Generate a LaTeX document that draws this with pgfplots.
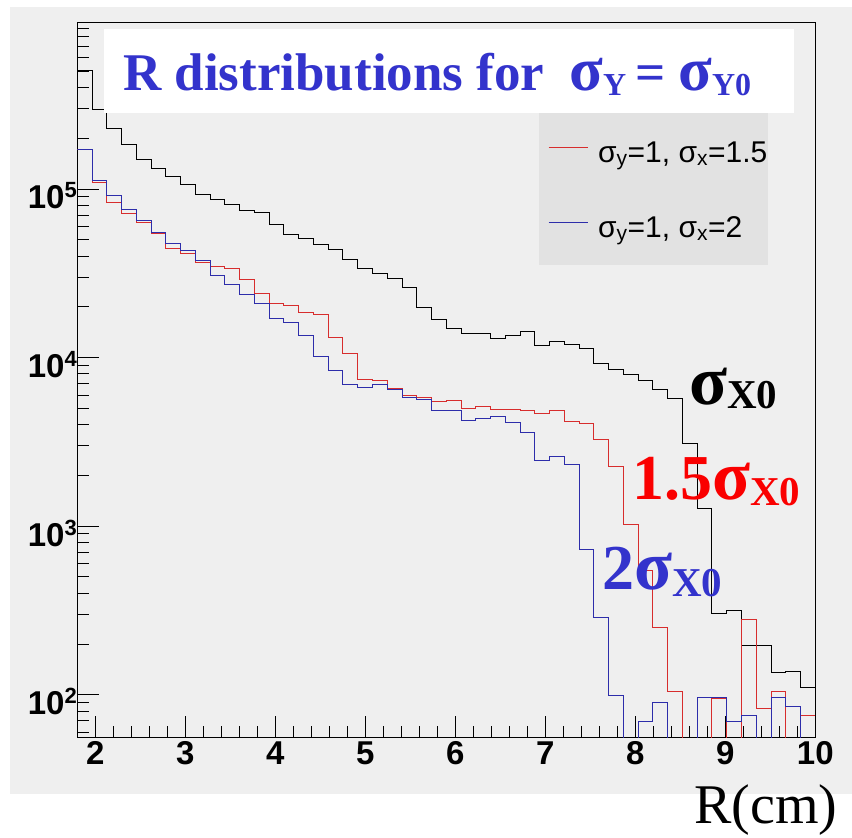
\documentclass[border=0pt]{standalone}
\usepackage{pgfplots}
\pgfplotsset{compat=1.18}
\usepackage{pgfplotstable}
\usepackage{fontspec}
\setmainfont{Liberation Sans}
\newfontfamily\tnr{Liberation Serif}

\definecolor{canvas}{RGB}{239,239,239}
\definecolor{legbox}{RGB}{226,226,226}
\definecolor{hred}{RGB}{215,45,45}
\definecolor{hblue}{RGB}{45,45,170}
\definecolor{tblue}{RGB}{51,51,204}
\definecolor{lred}{RGB}{250,0,0}

% 50 bins from 1.8 to 10 (width 0.164), left edges; last row closes the last bin
% empty bins are written as 1 (below ymin)
\pgfplotstableread{
x      sx0     sx15    sx2
1.800  508000  172700  172700
1.964  298200  110000  113100
2.128  228500  82900   92100
2.292  184900  71700   75800
2.456  150600  63100   65500
2.620  132700  54600   55600
2.784  118600  44500   47600
2.948  106300  41500   42900
3.112  93400   36900   37900
3.276  86600   34900   30900
3.440  81500   33800   27300
3.604  74500   29100   23700
3.768  72100   24100   20800
3.932  61400   20800   17100
4.096  53900   20500   16100
4.260  50600   18600   13520
4.424  47000   18100   10220
4.588  43500   13240   8440
4.752  38100   10640   6920
4.916  33700   7460    6690
5.080  31400   7310    6920
5.244  29600   6570    6460
5.408  25900   5990    5810
5.572  19900   5810    5655
5.736  16800   5490    4840
5.900  14900   5550    4840
6.064  13850   5000    4260
6.228  13850   5110    4360
6.392  13060   4950    4500
6.556  13610   4930    4130
6.720  14370   4840    3584
6.884  11870   4660    2468
7.048  12460   4840    2606
7.212  11960   4160    2336
7.376  11350   4040    727
7.540  9250    3275    288
7.704  8500    2252    99.5
7.868  7990    1029    1
8.032  7310    549     69
8.196  6510    250     90
8.360  5730    104     1
8.524  3100    1       1
8.688  1276    1       96
8.852  304     95      96
9.016  315     1       69
9.180  196     280     75
9.344  196     83      1
9.508  136     105     96
9.672  138     1       85
9.836  110     75      1
10.000 110     75      1
}\rdist

\begin{document}
\begin{tikzpicture}[x=1pt,y=1pt]
\useasboundingbox (0,0) rectangle (852,838);
\fill[white] (0,0) rectangle (852,838);
\fill[canvas] (10,44) rectangle (852,831);
\fill[legbox] (539,573) rectangle (768,738);

\begin{axis}[
  at={(77.3pt,100pt)}, anchor=south west,
  width=738pt, height=715pt, scale only axis,
  xmin=1.8, xmax=10,
  ymode=log, ymin=55.4, ymax=966000,
  axis line style={black, line width=1pt},
  xtick={2,3,4,5,6,7,8,9,10}, minor x tick num=4,
  ytick={100,1000,10000,100000},
  yticklabels={{10\raisebox{11pt}{\fontsize{22}{22}\selectfont 2}},
               {10\raisebox{11pt}{\fontsize{22}{22}\selectfont 3}},
               {10\raisebox{11pt}{\fontsize{22}{22}\selectfont 4}},
               {10\raisebox{11pt}{\fontsize{22}{22}\selectfont 5}}},
  minor ytick={60,70,80,90,200,300,400,500,600,700,800,900,
               2000,3000,4000,5000,6000,7000,8000,9000,
               20000,30000,40000,50000,60000,70000,80000,90000,
               200000,300000,400000,500000,600000,700000,800000,900000},
  tick align=inside, xtick pos=left, ytick pos=left,
  major tick length=22pt, minor tick length=12pt,
  every tick/.style={black, line width=1pt},
  tick label style={font=\fontsize{33}{33}\selectfont\bfseries},
  xticklabel style={/pgf/number format/assume math mode=true},
  yticklabel style={yshift=-7pt, xshift=3pt},
  legend style={at={(axis description cs:0.6378,0.8364)}, anchor=north west,
    draw=none, fill=none, inner sep=0pt, row sep=45pt, column sep=10pt,
    font=\fontsize{30}{36}\selectfont,
    nodes={inner sep=0pt, text height=22pt, text depth=8pt}},
  legend cell align=left,
  legend image code/.code={\draw[#1] (0pt,8pt) -- (39pt,8pt);},
]
\addplot[const plot, black, line width=1pt, forget plot] table[x=x, y=sx0] {\rdist};
\addplot[const plot, hred, line width=1pt] table[x=x, y=sx15] {\rdist};
\addlegendentry{σ\textsubscript{y}=1, σ\textsubscript{x}=1.5}
\addplot[const plot, hblue, line width=1pt] table[x=x, y=sx2] {\rdist};
\addlegendentry{σ\textsubscript{y}=1, σ\textsubscript{x}=2}
\end{axis}

% title box
\fill[white] (104,725) rectangle (794,809);
\node[anchor=base west, inner sep=0pt, text=tblue, font={\tnr\bfseries\fontsize{53}{60}\selectfont}]
  at (123,747) {R distributions for\hspace{25pt}{\fontsize{62}{62}\selectfont σ}\raisebox{-5pt}{\fontsize{32}{32}\selectfont Y}\hspace{9pt}=\hspace{13pt}{\fontsize{62}{62}\selectfont σ}\raisebox{-5pt}{\fontsize{32}{32}\selectfont Y0}};

% curve labels
\node[anchor=base west, inner sep=0pt, text=black, font={\tnr\bfseries\fontsize{64}{64}\selectfont}]
  at (689,433) {{\fontsize{70}{70}\selectfont σ}\raisebox{-4pt}{\fontsize{41}{41}\selectfont X0}};
\node[anchor=base west, inner sep=0pt, text=lred, font={\tnr\bfseries\fontsize{64}{64}\selectfont}]
  at (632,338) {1.5{\fontsize{70}{70}\selectfont σ}\raisebox{-6pt}{\fontsize{41}{41}\selectfont X0}};
\node[anchor=base west, inner sep=0pt, text=tblue, font={\tnr\bfseries\fontsize{64}{64}\selectfont}]
  at (602,248) {2{\fontsize{70}{70}\selectfont σ}\raisebox{-7pt}{\fontsize{41}{41}\selectfont X0}};

\node[anchor=base west, inner sep=0pt, font={\tnr\fontsize{56}{56}\selectfont}]
  at (694,14) {R(cm)};
\end{tikzpicture}
\end{document}
